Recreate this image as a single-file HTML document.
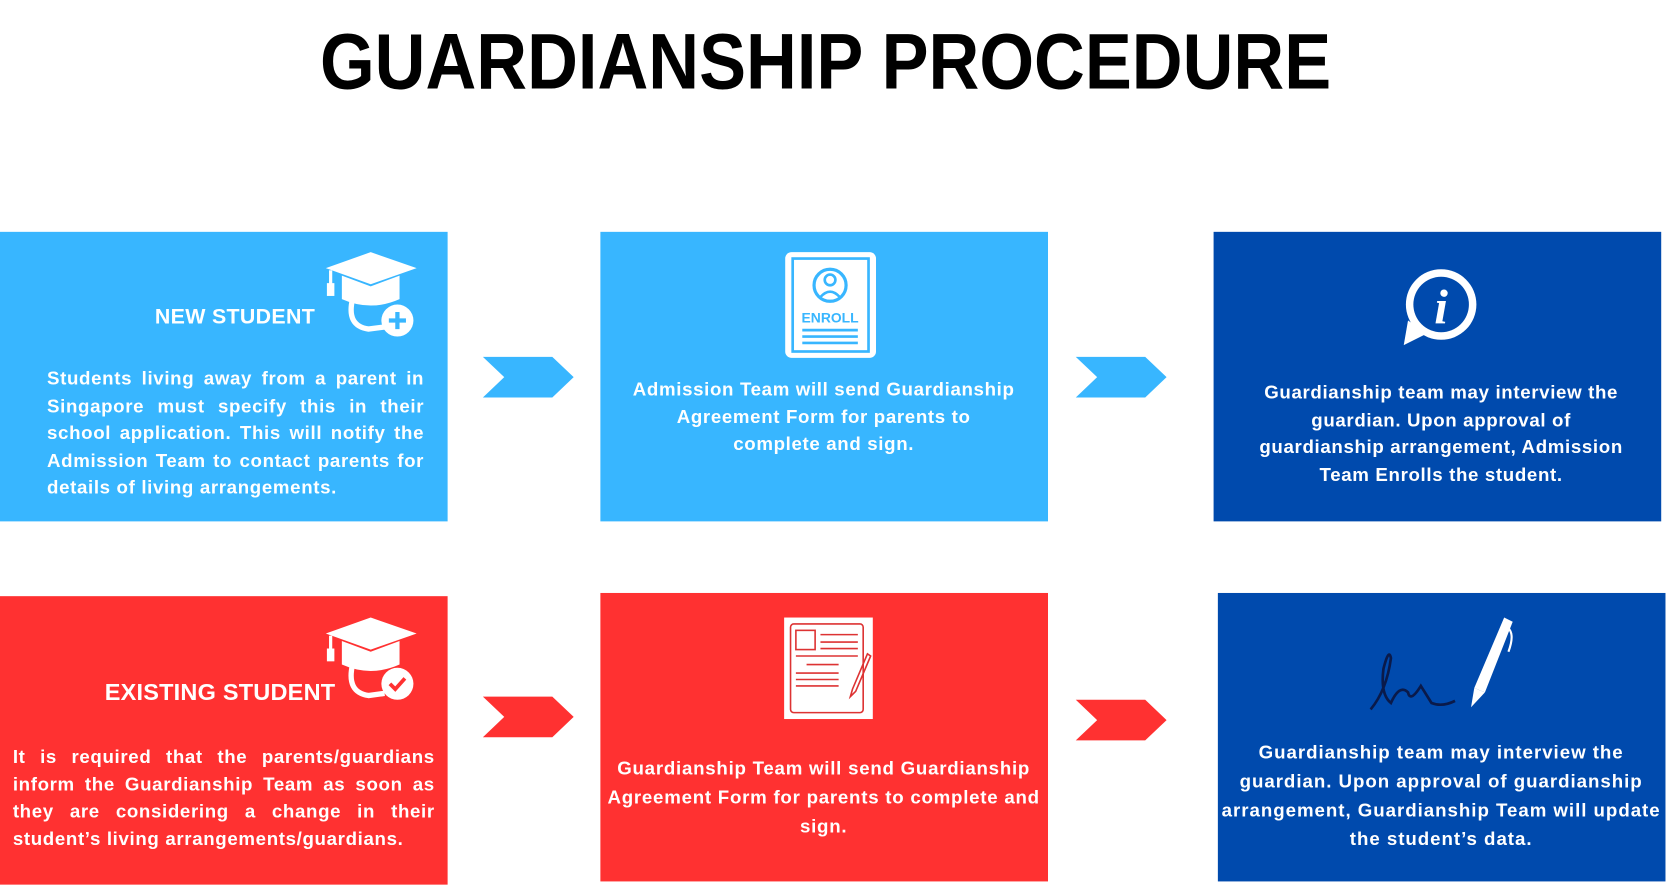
<!DOCTYPE html>
<html><head><meta charset="utf-8"><style>
html,body{margin:0;padding:0;background:#fff;overflow:hidden;width:1675px;height:890px}
#w{position:absolute;left:0;top:0;width:1568px;height:833px;transform:scale(1.0683,1.0684);transform-origin:0 0;font-family:"Liberation Sans",sans-serif;font-weight:bold;color:#fff}
.b{position:absolute}
.lb{background:#38b6ff}.db{background:#004aad}.rd{background:#ff3131}
.t{position:absolute;font-size:17.5px;line-height:25.5px;letter-spacing:0.6px;white-space:nowrap}
.j{text-align:justify;text-align-last:left;white-space:normal}
.c{text-align:center}
#title{position:absolute;left:0;width:1545px;top:18px;text-align:center;color:#000;font-size:74px;line-height:80px}
#title span{display:inline-block;transform:scaleX(0.89)}
</style></head><body><div id="w">
<div id="title"><span>GUARDIANSHIP PROCEDURE</span></div>

<div class="b lb" style="left:0;top:217px;width:419px;height:271px"></div>
<div class="b lb" style="left:562px;top:217px;width:419px;height:271px"></div>
<div class="b db" style="left:1136px;top:217px;width:419px;height:271px"></div>
<div class="b rd" style="left:0;top:558px;width:419px;height:270px"></div>
<div class="b rd" style="left:562px;top:555px;width:419px;height:270px"></div>
<div class="b db" style="left:1140px;top:555px;width:419px;height:270px"></div>

<svg class="b" style="left:0;top:0" width="1568" height="833">
<polygon points="452,334 517,334 537,353 517,372 452,372 472,353" fill="#38b6ff"/>
<polygon points="1007,334 1072,334 1092,353 1072,372 1007,372 1027,353" fill="#38b6ff"/>
<polygon points="452,652 517,652 537,671 517,690 452,690 472,671" fill="#ff3131"/>
<polygon points="1007,655 1072,655 1092,674 1072,693 1007,693 1027,674" fill="#ff3131"/>
<g fill="#fff">
<polygon points="305,251 347,236 390,251 347,266"/>
<path d="M320,258 L320,280 Q347,292 374,280 L374,258 L347,268 Z"/>
<rect x="308" y="253" width="3" height="14"/><rect x="306" y="265" width="7" height="12"/>
<circle cx="372" cy="300" r="15"/>
</g>
<path d="M330,280 Q324,305 345,308 L360,306" stroke="#fff" stroke-width="5" fill="none"/>
<path d="M372,292 v16 M364,300 h16" stroke="#38b6ff" stroke-width="4"/>
<g fill="#fff">
<polygon points="305,593 347,578 390,593 347,608"/>
<path d="M320,600 L320,622 Q347,634 374,622 L374,600 L347,610 Z"/>
<rect x="308" y="595" width="3" height="14"/><rect x="306" y="607" width="7" height="12"/>
<circle cx="372" cy="640" r="15"/>
</g>
<path d="M330,622 Q324,648 345,651 L360,649" stroke="#fff" stroke-width="5" fill="none"/>
<path d="M365,640 l5,5 l9,-10" stroke="#ff3131" stroke-width="3.5" fill="none"/>
<rect x="735" y="236" width="85" height="99" rx="6" fill="#fff"/>
<rect x="742" y="242" width="71" height="87" fill="none" stroke="#38b6ff" stroke-width="2.5"/>
<circle cx="777" cy="267" r="15" fill="none" stroke="#38b6ff" stroke-width="3"/>
<circle cx="777" cy="262" r="5" fill="none" stroke="#38b6ff" stroke-width="2.5"/>
<path d="M768,278 q9,-10 18,0" fill="none" stroke="#38b6ff" stroke-width="2.5"/>
<text x="777" y="302" font-size="13" fill="#38b6ff" text-anchor="middle" font-family="Liberation Sans" font-weight="bold">ENROLL</text>
<path d="M751,309 h52 M751,315 h52 M751,321 h52" stroke="#38b6ff" stroke-width="2.5"/>
<circle cx="1349" cy="285" r="33" fill="#fff"/>
<polygon points="1318,300 1314,323 1336,312" fill="#fff"/>
<circle cx="1349" cy="285" r="26" fill="#004aad"/>
<text x="1349" y="303" font-size="46" fill="#fff" text-anchor="middle" font-family="Liberation Serif" font-style="italic" font-weight="bold">i</text>
<rect x="734" y="578" width="83" height="95" fill="#fff"/>
<rect x="740" y="584" width="68" height="83" rx="3" fill="none" stroke="#d33" stroke-width="1.5"/>
<rect x="745" y="590" width="18" height="18" fill="none" stroke="#d33" stroke-width="1.5"/>
<path d="M768,594 h35 M768,601 h35 M768,607 h35 M745,614 h58 M755,622 h30 M745,630 h40 M745,636 h40 M745,642 h40" stroke="#d33" stroke-width="1.5"/>
<path d="M812,612 L798,645 L796,652 L801,647 L815,614 Z" fill="none" stroke="#d33" stroke-width="1.5"/>
<path d="M1283,664 Q1298,646 1302,616 Q1300,606 1295,626 Q1292,650 1302,658 Q1310,640 1318,648 Q1320,658 1330,642 Q1335,650 1340,658 Q1350,662 1362,656" fill="none" stroke="#0a1a4a" stroke-width="2.5"/>
<polygon points="1408,578 1416,582 1390,648 1380,644" fill="#fff"/>
<polygon points="1380,644 1390,648 1377,662" fill="#fff"/>
<path d="M1412,588 q6,6 0,22" stroke="#fff" stroke-width="2" fill="none"/>
</svg>

<div class="t c" style="left:100px;top:285px;width:240px;font-size:20px;letter-spacing:0.3px">NEW STUDENT</div>
<div class="t j" style="left:44px;top:342px;width:353px">Students living away from a parent in Singapore must specify this in their school application. This will notify the Admission Team to contact parents for details of living arrangements.</div>
<div class="t c" style="left:560px;top:352px;width:422px">Admission Team will send Guardianship<br>Agreement Form for parents to<br>complete and sign.</div>
<div class="t c" style="left:1135px;top:355px;width:428px">Guardianship team may interview the<br>guardian. Upon approval of<br>guardianship arrangement, Admission<br>Team Enrolls the student.</div>

<div class="t" style="left:98px;top:634px;font-size:22px;line-height:28px;letter-spacing:0.2px">EXISTING STUDENT</div>
<div class="t j" style="left:12px;top:696px;width:395px">It is required that the parents/guardians inform the Guardianship Team as soon as they are considering a change in their student’s living arrangements/guardians.</div>
<div class="t c" style="left:550px;top:706px;width:442px;line-height:27px;letter-spacing:0.7px">Guardianship Team will send Guardianship<br>Agreement Form for parents to complete and<br>sign.</div>
<div class="t c" style="left:1130px;top:691px;width:438px;line-height:27px;letter-spacing:0.9px">Guardianship team may interview the<br>guardian. Upon approval of guardianship<br>arrangement, Guardianship Team will update<br>the student’s data.</div>
</div></body></html>
